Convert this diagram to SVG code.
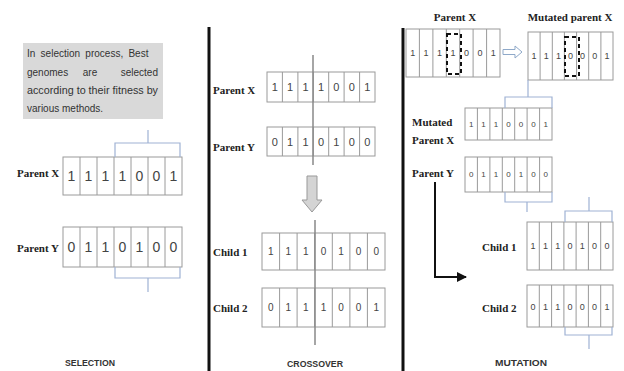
<svg xmlns="http://www.w3.org/2000/svg" width="624" height="371" viewBox="0 0 624 371">
<style>
.cell{fill:#fff;stroke:#9a9a9a;stroke-width:1}
.sep{stroke:#9a9a9a;stroke-width:1}
.dg{font-family:"Liberation Sans",Arial,sans-serif;fill:#444;text-anchor:middle}
.lbl{font-family:"Liberation Serif","Times New Roman",serif;font-weight:bold;font-size:11px;fill:#222}
.br{fill:none;stroke:#9fb2d4;stroke-width:1.2}
.cap{font-family:"Liberation Sans",Arial,sans-serif;font-size:9px;font-weight:bold;fill:#333;text-anchor:middle}
.box{font-family:"Liberation Sans",Arial,sans-serif;font-size:10px;fill:#333}
.div{stroke:#111;stroke-width:3}
</style>
<defs>
<marker id="ah" viewBox="0 0 10 10" refX="9" refY="5" markerWidth="5" markerHeight="5" orient="auto"><path d="M0,0 L10,5 L0,10 z" fill="#111"/></marker>
</defs>
<rect width="624" height="371" fill="#fff"/>

<!-- dividers -->
<line class="div" x1="209" y1="27" x2="209" y2="371"/>
<line class="div" x1="403" y1="28" x2="403" y2="371"/>

<!-- SELECTION -->
<g id="sel-note">
<rect x="23" y="43" width="140" height="76" fill="#d9d9d9"/>
<text class="box" x="27" y="57" word-spacing="2.5">In selection process, Best</text>
<text class="box" x="27" y="76">genomes</text>
<text class="box" x="90" y="76" text-anchor="middle">are</text>
<text class="box" x="158" y="76" text-anchor="end">selected</text>
<text class="box" x="27" y="94" textLength="131" lengthAdjust="spacingAndGlyphs">according to their fitness by</text>
<text class="box" x="27" y="112">various methods.</text>
</g>
<g id="sel-parentx">
<text class="lbl" x="17" y="177">Parent X</text>
<rect class="cell" x="63" y="157" width="119" height="38"/>
<path class="sep" d="M80,157V195M97,157V195M114,157V195M131,157V195M148,157V195M165,157V195"/>
<g class="dg" font-size="14"><text x="71.5" y="181">1</text><text x="88.5" y="181">1</text><text x="105.5" y="181">1</text><text x="122.5" y="181">1</text><text x="139.5" y="181">0</text><text x="156.5" y="181">0</text><text x="173.5" y="181">1</text></g>
</g>
<g id="sel-parenty">
<text class="lbl" x="17" y="252">Parent Y</text>
<rect class="cell" x="63" y="227" width="119" height="40"/>
<path class="sep" d="M80,227V267M97,227V267M114,227V267M131,227V267M148,227V267M165,227V267"/>
<g class="dg" font-size="14"><text x="71.5" y="252">0</text><text x="88.5" y="252">1</text><text x="105.5" y="252">1</text><text x="122.5" y="252">0</text><text x="139.5" y="252">1</text><text x="156.5" y="252">0</text><text x="173.5" y="252">0</text></g>
</g>
<text class="cap" x="90" y="366" textLength="50" lengthAdjust="spacingAndGlyphs">SELECTION</text>

<!-- CROSSOVER -->
<g id="co-parentx">
<text class="lbl" x="213" y="94">Parent X</text>
<rect class="cell" x="267" y="72" width="108" height="30"/>
<path class="sep" d="M282.4,72V102M297.9,72V102M313.3,72V102M328.7,72V102M344.1,72V102M359.6,72V102"/>
<g class="dg" font-size="11"><text x="274.7" y="91">1</text><text x="290.1" y="91">1</text><text x="305.6" y="91">1</text><text x="321" y="91">1</text><text x="336.4" y="91">0</text><text x="351.9" y="91">0</text><text x="367.3" y="91">1</text></g>
</g>
<g id="co-parenty">
<text class="lbl" x="213" y="151">Parent Y</text>
<rect class="cell" x="267" y="127" width="108" height="29"/>
<path class="sep" d="M282.4,127V156M297.9,127V156M313.3,127V156M328.7,127V156M344.1,127V156M359.6,127V156"/>
<g class="dg" font-size="11"><text x="274.7" y="146">0</text><text x="290.1" y="146">1</text><text x="305.6" y="146">1</text><text x="321" y="146">0</text><text x="336.4" y="146">1</text><text x="351.9" y="146">0</text><text x="367.3" y="146">0</text></g>
</g>
<g id="co-child1">
<text class="lbl" x="213" y="256">Child 1</text>
<rect class="cell" x="262" y="233" width="123" height="37"/>
<path class="sep" d="M279.6,233V270M297.1,233V270M314.7,233V270M332.3,233V270M349.9,233V270M367.4,233V270"/>
<g class="dg" font-size="10"><text x="270.8" y="255">1</text><text x="288.4" y="255">1</text><text x="305.9" y="255">1</text><text x="323.5" y="255">0</text><text x="341.1" y="255">1</text><text x="358.6" y="255">0</text><text x="376.2" y="255">0</text></g>
</g>
<g id="co-child2">
<text class="lbl" x="213" y="312">Child 2</text>
<rect class="cell" x="262" y="288" width="123" height="39"/>
<path class="sep" d="M279.6,288V327M297.1,288V327M314.7,288V327M332.3,288V327M349.9,288V327M367.4,288V327"/>
<g class="dg" font-size="10"><text x="270.8" y="311">0</text><text x="288.4" y="311">1</text><text x="305.9" y="311">1</text><text x="323.5" y="311">1</text><text x="341.1" y="311">0</text><text x="358.6" y="311">0</text><text x="376.2" y="311">1</text></g>
</g>
<text class="cap" x="315" y="367" textLength="56" lengthAdjust="spacingAndGlyphs">CROSSOVER</text>

<!-- MUTATION -->
<g id="mu-parentx">
<text class="lbl" x="455" y="21" text-anchor="middle">Parent X</text>
<rect class="cell" x="406" y="29" width="94" height="48"/>
<path class="sep" d="M419.4,29V77M432.9,29V77M446.3,29V77M459.7,29V77M473.1,29V77M486.6,29V77"/>
<g class="dg" font-size="9"><text x="412.7" y="56">1</text><text x="426.1" y="56">1</text><text x="439.6" y="56">1</text><text x="453" y="56">1</text><text x="466.4" y="56">0</text><text x="479.9" y="56">0</text><text x="493.3" y="56">1</text></g>
<rect x="447" y="34" width="14" height="40" fill="none" stroke="#111" stroke-width="2" stroke-dasharray="4,3"/>
</g>
<g id="mu-mutated">
<text class="lbl" x="570" y="21" text-anchor="middle">Mutated parent X</text>
<rect class="cell" x="528" y="32" width="85" height="48"/>
<path class="sep" d="M540.1,32V80M552.3,32V80M564.4,32V80M576.6,32V80M588.7,32V80M600.9,32V80"/>
<g class="dg" font-size="9"><text x="534.1" y="59">1</text><text x="546.2" y="59">1</text><text x="558.4" y="59">1</text><text x="570.5" y="59">0</text><text x="582.6" y="59">0</text><text x="594.8" y="59">0</text><text x="606.9" y="59">1</text></g>
<rect x="565" y="37" width="14" height="39" fill="none" stroke="#111" stroke-width="2" stroke-dasharray="4,3"/>
</g>
<g id="mu-mutated2">
<text class="lbl" x="412" y="126">Mutated</text>
<text class="lbl" x="412" y="144">Parent X</text>
<rect class="cell" x="465" y="108" width="87" height="32"/>
<path class="sep" d="M477.4,108V140M489.9,108V140M502.3,108V140M514.7,108V140M527.1,108V140M539.6,108V140"/>
<g class="dg" font-size="8"><text x="471.2" y="127">1</text><text x="483.6" y="127">1</text><text x="496.1" y="127">1</text><text x="508.5" y="127">0</text><text x="520.9" y="127">0</text><text x="533.4" y="127">0</text><text x="545.8" y="127">1</text></g>
</g>
<g id="mu-parenty">
<text class="lbl" x="412" y="177">Parent Y</text>
<rect class="cell" x="465" y="157" width="87" height="35"/>
<path class="sep" d="M477.4,157V192M489.9,157V192M502.3,157V192M514.7,157V192M527.1,157V192M539.6,157V192"/>
<g class="dg" font-size="8"><text x="471.2" y="177">0</text><text x="483.6" y="177">1</text><text x="496.1" y="177">1</text><text x="508.5" y="177">0</text><text x="520.9" y="177">1</text><text x="533.4" y="177">0</text><text x="545.8" y="177">0</text></g>
</g>
<g id="mu-child1">
<text class="lbl" x="482" y="251">Child 1</text>
<rect class="cell" x="527" y="222" width="86" height="48"/>
<path class="sep" d="M539.3,222V270M551.6,222V270M563.9,222V270M576.1,222V270M588.4,222V270M600.7,222V270"/>
<g class="dg" font-size="9"><text x="533.1" y="249">1</text><text x="545.4" y="249">1</text><text x="557.7" y="249">1</text><text x="570" y="249">0</text><text x="582.3" y="249">1</text><text x="594.6" y="249">0</text><text x="606.9" y="249">0</text></g>
</g>
<g id="mu-child2">
<text class="lbl" x="482" y="312">Child 2</text>
<rect class="cell" x="527" y="285" width="86" height="42"/>
<path class="sep" d="M539.3,285V327M551.6,285V327M563.9,285V327M576.1,285V327M588.4,285V327M600.7,285V327"/>
<g class="dg" font-size="9"><text x="533.1" y="310">0</text><text x="545.4" y="310">1</text><text x="557.7" y="310">1</text><text x="570" y="310">0</text><text x="582.3" y="310">0</text><text x="594.6" y="310">0</text><text x="606.9" y="310">1</text></g>
</g>
<text class="cap" x="521" y="366" textLength="52" lengthAdjust="spacingAndGlyphs">MUTATION</text>

<!-- connectors -->
<g id="connectors">
<path class="br" d="M115,157V143H180V157M148,143V130"/>
<path class="br" d="M115,267V278H180V267M148,278V292"/>
<line x1="313" y1="55" x2="313" y2="165" stroke="#888" stroke-width="1.5"/>
<line x1="315" y1="220" x2="315" y2="345" stroke="#888" stroke-width="1.5"/>
<path d="M307,176H317V200H322L312,212L302,200H307Z" fill="#d4d4d4" stroke="#999" stroke-width="1"/>
<path d="M503,49.5H515V46L522,52L515,58V54.5H503Z" fill="#fff" stroke="#8fa9c9" stroke-width="1"/>
<path class="br" d="M528,80V97M505,108V97H552V108"/>
<path class="br" d="M505,192V202H552V192M527,202V212"/>
<path class="br" d="M565,222V211H612V222M589,211V197"/>
<path class="br" d="M565,327V335H612V327M589,335V349"/>
<path d="M435,182V277H466" fill="none" stroke="#111" stroke-width="2" marker-end="url(#ah)"/>
</g>
</svg>
